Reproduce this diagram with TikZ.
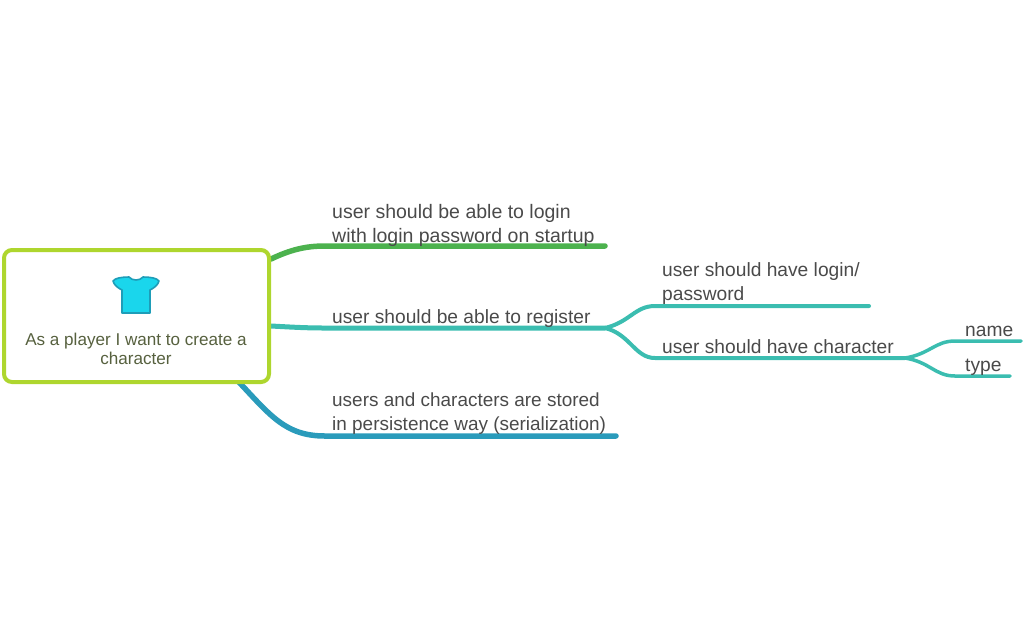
\documentclass[tikz,border=0pt]{standalone}
\usepackage{fontspec}
\setmainfont{Liberation Sans}
\usetikzlibrary{backgrounds}
\definecolor{rootgreen}{HTML}{AED62E}
\definecolor{rootlabel}{HTML}{57613F}
\definecolor{textgrey}{HTML}{4A4A4A}
\definecolor{branchgreen}{HTML}{4CB24E}
\definecolor{branchteal}{HTML}{3BBDB0}
\definecolor{branchblue}{HTML}{2A9BBB}
\definecolor{shirtfill}{HTML}{1AD6EC}
\definecolor{shirtline}{HTML}{1E9DB8}
\tikzset{
	rootbox/.style={draw=rootgreen, line width=4, rounded corners=8, fill=white, inner sep=0},
	topic/.style={anchor=south west, align=left, inner xsep=0, inner ysep=1.5, text=textgrey, font=\fontsize{#1}{23.5}\selectfont},
	topic/.default=19.2,
	link/.style={line cap=round, line width=#1},
}
\begin{document}
\begin{tikzpicture}[x=1pt, y=-1pt]
	\useasboundingbox (0,0) rectangle (1024,633);

	\node (root)[rootbox, minimum width=265, minimum height=132] at (136.5,316) {};
	\node (rootlabel)[text=rootlabel, align=center, font=\fontsize{17.1}{19.5}\selectfont] at (136,349) {As a player I want to create a\\character};

	% shirt
	\draw [fill=shirtfill, draw=shirtline, line width=1.6, line join=round]
		(129,277) .. controls (132,281) and (140,281) .. (143,277)
		.. controls (150,277) and (157,278) .. (159,281)
		.. controls (158,285) and (154,288) .. (150,290) -- (150,313) -- (122,313) -- (122,290)
		.. controls (118,288) and (114,285) .. (113,281)
		.. controls (115,278) and (122,277) .. (129,277) -- cycle;

	\coordinate (s1) at (325,246);
	\coordinate (e1) at (605,246);
	\coordinate (s2) at (325,328);
	\coordinate (e2) at (605,328);
	\coordinate (s3) at (325,436);
	\coordinate (e3) at (616,436);
	\coordinate (s4) at (655,306);
	\coordinate (e4) at (869,306);
	\coordinate (s5) at (655,358);
	\coordinate (e5) at (905,358);
	\coordinate (s6) at (955,341);
	\coordinate (e6) at (1021,341);
	\coordinate (s7) at (955,376);
	\coordinate (e7) at (1010,376);

	\node (login)[topic=19.5] at (332,248) {user should be able to login\\with login password on startup};
	\node (register)[topic] at (332,329) {user should be able to register};
	\node (stored)[topic=18.95] at (332,436) {users and characters are stored\\in persistence way (serialization)};
	\node (password)[topic] at (662,306) {user should have login/\\password};
	\node (character)[topic] at (662,355) {user should have character};
	\node (name)[topic] at (965,338) {name};
	\node (type)[topic] at (965,377) {type};

	\begin{pgfonlayer}{background}
	\draw [link=5.5, branchgreen] (root.east |- 0,259) .. controls (290,250) and (305,246) .. (s1) -- (e1);
	\draw [link=5, branchteal] (root.east |- 0,326) .. controls (290,327) and (305,328) .. (s2) -- (e2);
	\draw [link=5.5, branchblue] (237,380) .. controls (270,415) and (285,436) .. (s3) -- (e3);
	\draw [link=4, branchteal] (e2) .. controls (630,322) and (635,306) .. (s4) -- (e4);
	\draw [link=4, branchteal] (e2) .. controls (630,334) and (635,358) .. (s5) -- (e5);
	\draw [link=3.5, branchteal] (e5) .. controls (930,354) and (935,341) .. (s6) -- (e6);
	\draw [link=3.5, branchteal] (e5) .. controls (930,362) and (935,376) .. (s7) -- (e7);
	\end{pgfonlayer}
\end{tikzpicture}
\end{document}
